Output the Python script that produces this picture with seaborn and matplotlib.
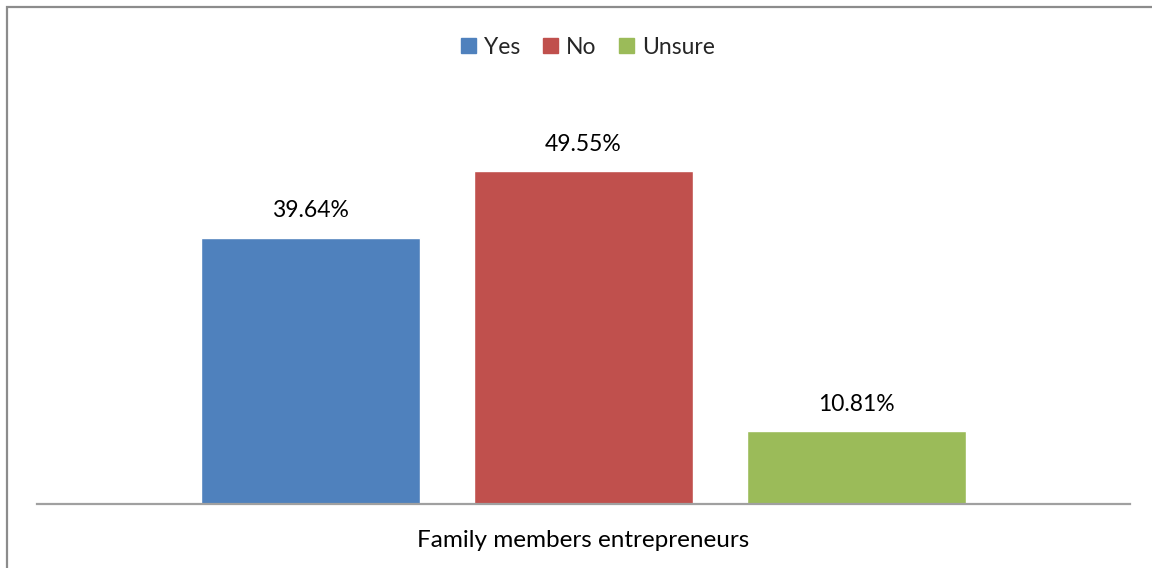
import matplotlib
matplotlib.use("Agg")
import matplotlib.pyplot as plt
import seaborn as sns
import pandas as pd
from matplotlib.patches import Rectangle

# Survey data
categories = ["Family members entrepreneurs"]
responses = ["Yes", "No", "Unsure"]
shares = [39.64, 49.55, 10.81]
colors = ["#4F81BD", "#C0504D", "#9BBB59"]

df = pd.DataFrame({
    "category": categories * len(responses),
    "response": responses,
    "share": shares,
})

sns.set_theme(style="white")
plt.rcParams["font.family"] = ["Lato", "DejaVu Sans"]

FS = 16.5
W, H, DPI = 1152, 568, 100
fig = plt.figure(figsize=(W / DPI, H / DPI), dpi=DPI)
ax = fig.add_axes([37 / W, 64 / H, (1130 - 37) / W, (504 - 101) / H])

sns.barplot(
    data=df, x="category", y="share", hue="response",
    hue_order=responses, palette=colors, width=0.75, gap=0.2,
    saturation=1, errorbar=None, legend=False, ax=ax,
)

ax.set_xlim(-0.5, 0.5)
ax.set_ylim(0, 60)
ax.set_xlabel("")
ax.set_ylabel("")
ax.set_yticks([])
for side in ("top", "right", "left"):
    ax.spines[side].set_visible(False)
ax.spines["bottom"].set_color("#A0A0A0")
ax.spines["bottom"].set_linewidth(1.6)
ax.tick_params(axis="x", length=0, pad=19, labelsize=17.5, labelcolor="black")

# Value labels above each bar
for bar, val in zip(ax.patches, shares):
    ax.annotate(
        f"{val:.2f}%",
        xy=(bar.get_x() + bar.get_width() / 2, val),
        xytext=(0, 27), textcoords="offset pixels",
        ha="center", va="center", fontsize=FS, color="black",
    )

# Legend across the top
handles = [Rectangle((0, 0), 1, 1, color=c) for c in colors]
fig.legend(
    handles, responses, loc="center", ncol=3, frameon=False,
    bbox_to_anchor=(588 / W, 1 - 47 / H), fontsize=FS,
    handlelength=0.65, handleheight=0.65, handletextpad=0.35,
    columnspacing=1.0,
)

# Chart frame
fig.patches.append(Rectangle(
    (7 / W, -0.1), 1.2, 1 - 7 / H + 0.1,
    transform=fig.transFigure, fill=False,
    edgecolor="#8C8C8C", linewidth=1.6,
))

fig.savefig("out.png", dpi=DPI, facecolor="white")
